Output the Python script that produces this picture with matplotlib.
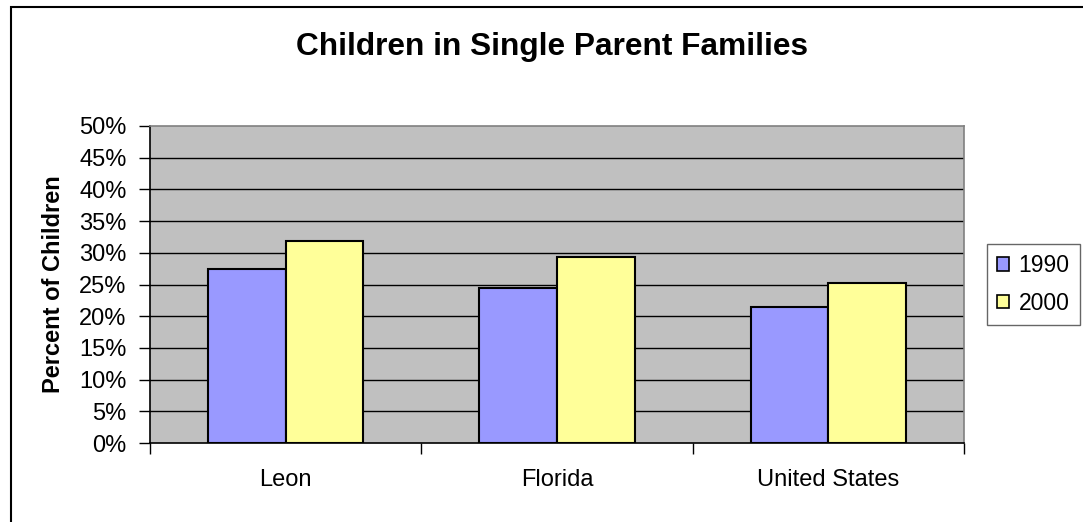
import matplotlib
matplotlib.use("Agg")
import matplotlib.pyplot as plt
import matplotlib.patches as mpatches
import numpy as np

categories = ["Leon", "Florida", "United States"]
series_names = ["1990", "2000"]
values_1990 = [0.275, 0.244, 0.215]
values_2000 = [0.319, 0.294, 0.252]
y_ticks = [0.0, 0.05, 0.10, 0.15, 0.20, 0.25, 0.30, 0.35, 0.40, 0.45, 0.50]
y_tick_labels = ["0%", "5%", "10%", "15%", "20%", "25%", "30%", "35%", "40%", "45%", "50%"]
title = "Children in Single Parent Families"
y_label = "Percent of Children"

colors = ["#9999FF", "#FFFF99"]

plt.rcParams['font.family'] = ['Liberation Sans', 'DejaVu Sans']

W, H = 1083, 522
fig = plt.figure(figsize=(W / 100, H / 100), dpi=100)
fig.patch.set_facecolor("white")

L, R, T, B = 150, 964, 126, 443
ax = fig.add_axes([L / W, 1 - B / H, (R - L) / W, (B - T) / H])
ax.set_facecolor("#C0C0C0")

x = np.arange(len(categories))
bw = 1 / 3.5
ax.bar(x - bw / 2, values_1990, width=bw, color=colors[0], edgecolor="black", linewidth=1.5, zorder=3)
ax.bar(x + bw / 2, values_2000, width=bw, color=colors[1], edgecolor="black", linewidth=1.5, zorder=3)

ax.set_xlim(-0.5, len(categories) - 0.5)
ax.set_ylim(0, 0.5)

for yv in y_ticks[1:-1]:
    ax.axhline(yv, color="black", linewidth=1.0, zorder=1)

ax.set_yticks(y_ticks)
ax.set_yticklabels(y_tick_labels, fontsize=17)
ax.tick_params(axis="y", direction="out", length=8, width=1, pad=9, color="black")

ax.set_xticks(np.arange(-0.5, len(categories), 1.0))
ax.set_xticklabels([])
ax.tick_params(axis="x", which="major", direction="out", length=8, width=1)
ax.set_xticks(x, minor=True)
ax.set_xticklabels(categories, minor=True, fontsize=17)
ax.tick_params(axis="x", which="minor", length=0, pad=19)

for s in ["top", "right"]:
    ax.spines[s].set_color("#808080")
    ax.spines[s].set_linewidth(1.2)
for s in ["left", "bottom"]:
    ax.spines[s].set_color("black")
    ax.spines[s].set_linewidth(1.2)

ax.set_ylabel(y_label, fontsize=17, fontweight="bold")
ax.yaxis.set_label_coords(-0.105, 0.5)

fig.text(552 / W, 1 - 47 / H, title, fontsize=22.8, fontweight="bold", ha="center", va="center")

handles = [mpatches.Patch(facecolor=c, edgecolor="black", linewidth=1.2) for c in colors]
leg = fig.legend(handles, series_names, loc="upper left",
                 bbox_to_anchor=(987 / W, 1 - 244 / H), fontsize=16.5,
                 handlelength=0.53, handleheight=0.53, handletextpad=0.4,
                 borderpad=0.45, labelspacing=0.62, frameon=True, fancybox=False,
                 borderaxespad=0)
leg.get_frame().set_edgecolor("#404040")
leg.get_frame().set_linewidth(1.0)

frame = mpatches.Rectangle((11 / W, -0.1), 1.2, 1 - 7 / H + 0.1, transform=fig.transFigure,
                           fill=False, edgecolor="black", linewidth=1.5, clip_on=False)
fig.patches.append(frame)

fig.savefig("out.png", dpi=100)
